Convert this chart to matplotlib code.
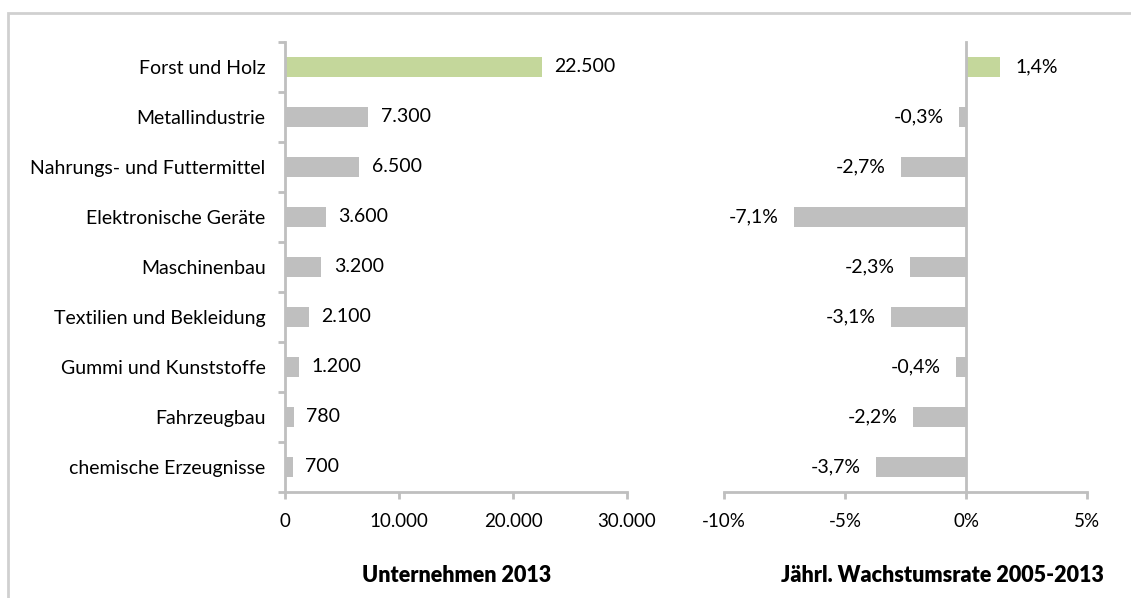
import numpy as np
import matplotlib.pyplot as plt
from matplotlib.patches import Rectangle

# Branchen und Kennzahlen
branchen = ['Forst und Holz', 'Metallindustrie', 'Nahrungs- und Futtermittel',
            'Elektronische Geräte', 'Maschinenbau', 'Textilien und Bekleidung',
            'Gummi und Kunststoffe', 'Fahrzeugbau', 'chemische Erzeugnisse']
unternehmen = [22500, 7300, 6500, 3600, 3200, 2100, 1200, 780, 700]
wachstum = [1.4, -0.3, -2.7, -7.1, -2.3, -3.1, -0.4, -2.2, -3.7]

x_ticks_links = [0, 10000, 20000, 30000]
x_ticks_rechts = [-10, -5, 0, 5]

plt.rcParams['font.family'] = ['Lato', 'DejaVu Sans']
fs = 14

gruen = '#C4D79B'
grau = '#BFBFBF'
achse = '#BFBFBF'
farben = [gruen] + [grau] * (len(branchen) - 1)


def fmt_tsd(v):
    return '{:,}'.format(int(v)).replace(',', '.')


def fmt_proz(v):
    return ('%.1f%%' % v).replace('.', ',')


W, H = 1131, 598
fig = plt.figure(figsize=(W / 100, H / 100), dpi=100)

# Rahmen oben und links
fig.add_artist(Rectangle((8 / W, -0.1), 1.2, (H - 13) / H + 0.1,
                         transform=fig.transFigure, fill=False,
                         edgecolor='#D0D0D0', linewidth=2))

y = np.arange(len(branchen))


def stil(ax):
    for s in ['top', 'right']:
        ax.spines[s].set_visible(False)
    for s in ['left', 'bottom']:
        ax.spines[s].set_color(achse)
        ax.spines[s].set_linewidth(2)
    ax.tick_params(axis='x', colors=achse, labelcolor='black', width=2,
                   length=5, pad=10, labelsize=fs - 0.5)
    ax.set_ylim(len(branchen) - 0.5, -0.5)


# linkes Diagramm: Unternehmen
ax1 = fig.add_axes([285 / W, (H - 492) / H, 342 / W, 450 / H])
ax1.barh(y, unternehmen, height=0.4, color=farben)
stil(ax1)
ax1.set_xlim(0, 30000)
ax1.set_xticks(x_ticks_links)
ax1.set_xticklabels([fmt_tsd(v) for v in x_ticks_links])
ax1.set_yticks(y)
ax1.set_yticklabels(branchen)
ax1.set_yticks(np.arange(len(branchen) + 1) - 0.5, minor=True)
ax1.tick_params(axis='y', which='major', length=0, pad=14, labelsize=fs)
ax1.tick_params(axis='y', which='minor', length=5, width=2, color=achse)
for yi, v in zip(y, unternehmen):
    ax1.annotate(fmt_tsd(v), (v, yi), xytext=(9, 0), textcoords='offset points',
                 va='center', ha='left', fontsize=fs)

# rechtes Diagramm: Wachstumsrate
ax2 = fig.add_axes([724 / W, (H - 492) / H, 363 / W, 450 / H])
ax2.barh(y, wachstum, height=0.4, color=farben)
stil(ax2)
ax2.set_xlim(-10, 5)
ax2.spines['left'].set_position(('data', 0))
ax2.set_yticks([])
ax2.set_xticks(x_ticks_rechts)
ax2.set_xticklabels(['%d%%' % v for v in x_ticks_rechts])
for yi, v in zip(y, wachstum):
    if v >= 0:
        ax2.annotate(fmt_proz(v), (v, yi), xytext=(11, 0), textcoords='offset points',
                     va='center', ha='left', fontsize=fs)
    else:
        ax2.annotate(fmt_proz(v), (v, yi), xytext=(-11, 0), textcoords='offset points',
                     va='center', ha='right', fontsize=fs)

fig.text(457 / W, 1 - 576 / H, 'Unternehmen 2013', ha='center', va='center',
         fontsize=15.5, fontweight='heavy')
fig.text(942 / W, 1 - 576 / H, 'Jährl. Wachstumsrate 2005-2013', ha='center',
         va='center', fontsize=15.5, fontweight='heavy')

fig.savefig('out.png', dpi=100, facecolor='white')
